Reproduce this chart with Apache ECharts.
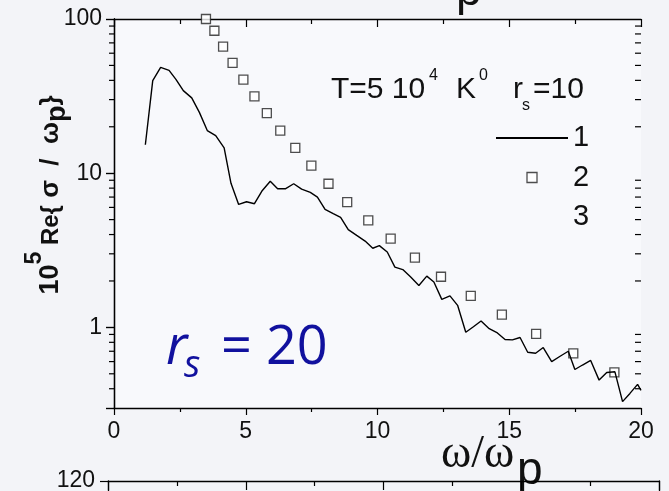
<!DOCTYPE html>
<html>
<head>
<meta charset="utf-8">
<script src="https://cdn.jsdelivr.net/npm/echarts@6/dist/echarts.min.js"></script>
<style>
  html, body { margin: 0; padding: 0; background: #f3f4f8; }
  #chart { width: 669px; height: 491px; }
</style>
</head>
<body>
<div id="chart"></div>
<script>
// ---- data ----
const lineX = [1.19, 1.47, 1.77, 2.09, 2.35, 2.63, 2.95, 3.24, 3.54, 3.86, 4.18, 4.44, 4.73, 5.03, 5.33, 5.63, 5.93, 6.21, 6.50, 6.82, 7.12, 7.45, 7.72, 8.01, 8.32, 8.60, 8.89, 9.21, 9.53, 9.82, 10.07, 10.37, 10.66, 10.96, 11.26, 11.57, 11.87, 12.14, 12.44, 12.75, 13.04, 13.35, 13.64, 13.93, 14.24, 14.55, 14.84, 15.12, 15.41, 15.70, 16.00, 16.29, 16.61, 16.93, 17.24, 17.49, 17.78, 18.09, 18.41, 18.70, 19.01, 19.30, 19.58, 19.87, 20.0];
const lineY = [15.3, 39.8, 48.5, 46.4, 40.6, 34.3, 30.8, 24.8, 18.9, 17.5, 14.6, 8.6, 6.27, 6.53, 6.34, 7.73, 8.87, 7.92, 7.92, 8.54, 7.88, 7.5, 7.0, 5.82, 5.46, 5.17, 4.30, 3.95, 3.63, 3.26, 3.39, 3.08, 2.46, 2.37, 2.12, 1.87, 2.15, 1.97, 1.52, 1.60, 1.39, 0.93, 1.01, 1.10, 0.98, 0.92, 0.835, 0.83, 0.86, 0.69, 0.68, 0.74, 0.60, 0.65, 0.70, 0.533, 0.57, 0.61, 0.455, 0.51, 0.515, 0.33, 0.373, 0.427, 0.39];
const squareX = [3.49, 3.81, 4.14, 4.50, 4.91, 5.33, 5.80, 6.31, 6.88, 7.49, 8.14, 8.85, 9.65, 10.50, 11.42, 12.41, 13.54, 14.72, 16.02, 17.43, 18.99];
const squareY = [100, 83.9, 66.1, 51.9, 40.4, 31.5, 24.5, 18.9, 14.6, 11.2, 8.54, 6.49, 4.94, 3.76, 2.83, 2.13, 1.60, 1.21, 0.908, 0.678, 0.51];
const xTicks = [0, 5, 10, 15, 20];
const yTickLabels = [1, 10, 100];
const yMinorTicks = [0.4, 0.5, 0.6, 0.7, 0.8, 0.9, 2, 3, 4, 5, 6, 7, 8, 9, 20, 30, 40, 50, 60, 70, 80, 90];
const legendNames = ['1', '2', '3'];

const SANS = "'Liberation Sans', Arial, sans-serif";
const SERIF = "'Liberation Serif', 'Times New Roman', serif";
const BLUE = '#11119e';
const INK = '#111';
const SQUARE_ICON = 'path://M0,0H10V10H0Z';

const chart = echarts.init(document.getElementById('chart'), null, { renderer: 'canvas' });

const zip = (a, b) => a.map((v, i) => [v, b[i]]);

chart.setOption({
  animation: false,
  backgroundColor: '#f3f4f8',
  grid: [
    { left: 114, right: 28, top: 19, bottom: 83, show: true, backgroundColor: '#f8f9fc', borderWidth: 0, containLabel: false, outerBoundsMode: 'none' },
    { left: 108, right: 10, top: 481, height: 300, show: false, containLabel: false, outerBoundsMode: 'none' }
  ],
  legend: {
    data: [
      { name: legendNames[0], itemStyle: { opacity: 0, color: 'rgba(0,0,0,0)', borderWidth: 0 } },
      { name: legendNames[1], icon: SQUARE_ICON, itemStyle: { color: '#ffffff', borderColor: '#222', borderWidth: 1.3 } },
      { name: legendNames[2], itemStyle: { opacity: 0, color: 'rgba(0,0,0,0)', borderWidth: 0 } }
    ],
    orient: 'vertical',
    left: 495,
    top: 123,
    padding: 0,
    itemWidth: 72,
    itemHeight: 10,
    itemGap: 9.5,
    symbolKeepAspect: true,
    selectedMode: false,
    textStyle: { fontFamily: SANS, fontSize: 29, color: INK, lineHeight: 30 }
  },
  xAxis: [
    {
      type: 'value', gridIndex: 0, position: 'bottom', min: xTicks[0], max: xTicks[xTicks.length - 1], interval: 5,
      axisLine: { show: true, lineStyle: { color: '#000', width: 1.3 } },
      axisTick: { show: true, inside: false, length: 7, lineStyle: { color: '#000', width: 1.2 } },
      minorTick: { show: true, splitNumber: 2, length: 4, lineStyle: { color: '#000', width: 1.2 } },
      axisLabel: { fontFamily: SANS, fontSize: 23, color: INK, margin: 12 },
      splitLine: { show: false }
    },
    {
      type: 'value', gridIndex: 0, position: 'top', min: 0, max: 20, interval: 5,
      axisLine: { show: true, lineStyle: { color: '#000', width: 1.3 } },
      axisTick: { show: true, inside: true, length: 8, lineStyle: { color: '#000', width: 1.2 } },
      minorTick: { show: true, splitNumber: 2, length: 5, lineStyle: { color: '#000', width: 1.2 } },
      axisLabel: { show: false },
      splitLine: { show: false }
    },
    {
      type: 'value', gridIndex: 1, position: 'top', min: 0, max: 4, interval: 1,
      axisLine: { show: true, onZero: false, lineStyle: { color: '#000', width: 1.3 } },
      axisTick: { show: true, inside: true, length: 9, lineStyle: { color: '#000', width: 1.2 } },
      minorTick: { show: true, splitNumber: 2, length: 5, lineStyle: { color: '#000', width: 1.2 } },
      axisLabel: { show: false },
      splitLine: { show: false }
    }
  ],
  yAxis: [
    {
      type: 'log', logBase: 10, gridIndex: 0, position: 'left', min: 0.3, max: 100,
      axisLine: { show: true, lineStyle: { color: '#000', width: 1.3 } },
      axisTick: { show: true, inside: false, length: 8, lineStyle: { color: '#000', width: 1.2 } },
      axisLabel: {
        fontFamily: SANS, fontSize: 23, color: INK, margin: 12,
        formatter: v => {
          const hit = yTickLabels.find(t => Math.abs(t - v) / t < 1e-6);
          return hit === undefined ? '' : String(hit);
        }
      },
      splitLine: { show: false }
    },
    {
      type: 'log', logBase: 10, gridIndex: 0, position: 'right', min: 0.3, max: 100,
      axisLine: { show: true, lineStyle: { color: '#000', width: 1.3 } },
      axisTick: { show: true, inside: true, length: 8, lineStyle: { color: '#000', width: 1.2 } },
      axisLabel: { show: false },
      splitLine: { show: false }
    },
    {
      type: 'value', gridIndex: 1, position: 'left', min: 0, max: 120, interval: 20,
      axisLine: { show: true, onZero: false, lineStyle: { color: '#000', width: 1.3 } },
      axisTick: { show: true, inside: false, length: 8, lineStyle: { color: '#000', width: 1.2 } },
      axisLabel: { fontFamily: SANS, fontSize: 23, color: INK, margin: 13, verticalAlign: 'middle' },
      splitLine: { show: false }
    },
    {
      type: 'value', gridIndex: 1, position: 'right', min: 0, max: 120, interval: 20,
      axisLine: { show: true, onZero: false, lineStyle: { color: '#000', width: 1.3 } },
      axisTick: { show: false },
      axisLabel: { show: false },
      splitLine: { show: false }
    }
  ],
  series: [
    {
      name: '1', type: 'line', xAxisIndex: 0, yAxisIndex: 0,
      data: zip(lineX, lineY), symbol: 'none', showSymbol: false,
      lineStyle: { color: '#000', width: 1.4 }, itemStyle: { color: '#000' }
    },
    {
      name: '2', type: 'scatter', xAxisIndex: 0, yAxisIndex: 0,
      data: zip(squareX, squareY), symbol: 'rect', symbolSize: 9,
      itemStyle: { color: '#ffffff', borderColor: '#222', borderWidth: 1.3 }
    },
    {
      name: '3', type: 'line', xAxisIndex: 0, yAxisIndex: 0, data: [],
      symbol: 'none', lineStyle: { color: 'rgba(0,0,0,0)' }, itemStyle: { color: 'rgba(0,0,0,0)' }
    },
    {
      name: 'minorTicks', type: 'custom', xAxisIndex: 0, yAxisIndex: 0, silent: true, clip: false,
      data: yMinorTicks.map(v => [0, v]),
      encode: { x: 0, y: 1 },
      renderItem: (params, api) => {
        const v = api.value(1);
        const pl = api.coord([0, v]);
        const pr = api.coord([20, v]);
        const st = { stroke: '#000', lineWidth: 1.2 };
        return {
          type: 'group',
          children: [
            { type: 'line', shape: { x1: pl[0] - 5, y1: pl[1], x2: pl[0], y2: pl[1] }, style: st },
            { type: 'line', shape: { x1: pr[0] - 6, y1: pr[1], x2: pr[0], y2: pr[1] }, style: st }
          ]
        };
      }
    }
  ],
  graphic: [
    // heading
    { type: 'text', x: 331, y: 90, style: { text: 'T=5 10', font: '30px ' + SANS, fill: INK, textAlign: 'left', textVerticalAlign: 'middle' } },
    { type: 'text', x: 429, y: 76, style: { text: '4', font: '16px ' + SANS, fill: INK, textAlign: 'left', textVerticalAlign: 'middle' } },
    { type: 'text', x: 456, y: 90, style: { text: 'K', font: '30px ' + SANS, fill: INK, textAlign: 'left', textVerticalAlign: 'middle' } },
    { type: 'text', x: 479, y: 76, style: { text: '0', font: '16px ' + SANS, fill: INK, textAlign: 'left', textVerticalAlign: 'middle' } },
    { type: 'text', x: 513, y: 90, style: { text: 'r', font: '30px ' + SANS, fill: INK, textAlign: 'left', textVerticalAlign: 'middle' } },
    { type: 'text', x: 522, y: 106, style: { text: 's', font: '16px ' + SANS, fill: INK, textAlign: 'left', textVerticalAlign: 'middle' } },
    { type: 'text', x: 533, y: 90, style: { text: '=10', font: '30px ' + SANS, fill: INK, textAlign: 'left', textVerticalAlign: 'middle' } },
    // r_s = 20 annotation
    { type: 'text', x: 166, y: 349, style: { text: 'r', font: 'italic 54px "Open Sans", sans-serif', fill: BLUE, textAlign: 'left', textVerticalAlign: 'middle' } },
    { type: 'text', x: 184, y: 366, style: { text: 's', font: 'italic 38px "Open Sans", sans-serif', fill: BLUE, textAlign: 'left', textVerticalAlign: 'middle' } },
    { type: 'text', x: 221, y: 349, style: { text: '= 20', font: '54px "Open Sans", sans-serif', fill: BLUE, textAlign: 'left', textVerticalAlign: 'middle' } },
    // x-axis title (overlapping lower panel)
    { type: 'text', x: 441, y: 455, style: { text: 'ω/ω', font: '46px ' + SERIF, fill: INK, textAlign: 'left', textVerticalAlign: 'middle' } },
    { type: 'text', x: 517, y: 471, style: { text: 'p', font: '46px ' + SANS, fill: INK, textAlign: 'left', textVerticalAlign: 'middle' } },
    // cut-off title of the panel above
    { type: 'text', x: 456, y: -8, style: { text: 'p', font: '46px ' + SANS, fill: INK, textAlign: 'left', textVerticalAlign: 'middle' } },
    // y-axis title
    {
      type: 'text', x: 51, y: 195, rotation: Math.PI / 2,
      style: {
        text: '{a|10}{b|5}{c| Re{}{g| σ  /  ω}{d|p}}',
        font: 'bold 26px ' + SANS,
        fill: INK, textAlign: 'center', textVerticalAlign: 'middle',
        rich: {
          a: { fontFamily: SANS, fontWeight: 'bold', fontSize: 27, fill: INK },
          b: { fontFamily: SANS, fontWeight: 'bold', fontSize: 23, fill: INK, padding: [0, 0, 32, 0] },
          c: { fontFamily: SANS, fontWeight: 'bold', fontSize: 24, fill: INK },
          g: { fontFamily: SANS, fontWeight: 'bold', fontSize: 26, fill: INK },
          d: { fontFamily: SANS, fontWeight: 'bold', fontSize: 27, fill: INK, padding: [14, 0, 0, 0] }
        }
      }
    }
  ]
});
</script>
</body>
</html>
